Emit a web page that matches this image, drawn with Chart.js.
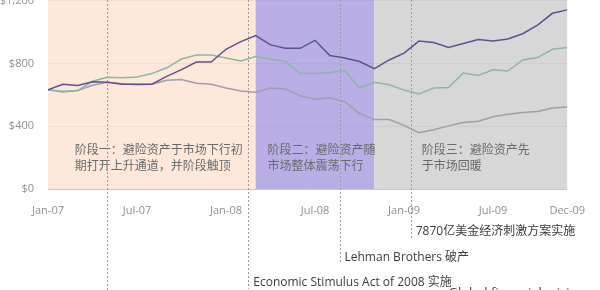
<!DOCTYPE html>
<html>
<head>
<meta charset="utf-8">
<script src="https://cdn.jsdelivr.net/npm/chart.js@4.4.1/dist/chart.umd.min.js"></script>
<style>
  html, body { margin: 0; padding: 0; background: #fff; overflow: hidden; }
  #wrap { position: absolute; left: 0; top: -20px; width: 600px; height: 320px; }
</style>
</head>
<body>
<div id="wrap"><canvas id="c"></canvas></div>
<script>
// Monthly series, Jan 2007 – Dec 2009
const months = [
  'Jan-07','Feb-07','Mar-07','Apr-07','May-07','Jun-07','Jul-07','Aug-07','Sep-07','Oct-07','Nov-07','Dec-07',
  'Jan-08','Feb-08','Mar-08','Apr-08','May-08','Jun-08','Jul-08','Aug-08','Sep-08','Oct-08','Nov-08','Dec-08',
  'Jan-09','Feb-09','Mar-09','Apr-09','May-09','Jun-09','Jul-09','Aug-09','Sep-09','Oct-09','Nov-09','Dec-09'
];
const seriesTop = [632,667,659,683,680,667,667,667,717,760,809,809,890,939,977,918,896,896,947,850,834,812,766,822,865,942,933,902,927,952,942,955,989,1044,1119,1141];
const seriesMid = [632,622,627,686,711,708,714,735,772,828,853,853,834,816,844,828,813,735,735,742,754,643,680,664,630,606,643,646,739,723,760,751,822,837,890,902];
const seriesLow = [632,618,627,661,680,671,664,667,692,698,674,667,643,624,616,643,637,593,572,581,556,482,442,443,405,358,377,402,423,431,460,476,488,493,516,523];

// Tick positions (month index) shown on the x axis
const xTickIdx = [0, 6, 12, 18, 24, 30, 35];
const yTicks = [0, 400, 800, 1200];

// Phases: start / end month index
const phaseStart = [0, 14, 22];
const phaseEnd = [14, 22, 35];
const phaseColors = ['#fde8da', '#b9aee6', '#d7d7d7'];
const phaseText = [
  ['阶段一：避险资产于市场下行初', '期打开上升通道，并阶段触顶'],
  ['阶段二：避险资产随', '市场整体震荡下行'],
  ['阶段三：避险资产先', '于市场回暖']
];
const phaseTextMonth = [1.8, 14.8, 25.2];
const phaseTextValue = [247, 142];

// Events: month index, label, label row (px below plot bottom)
const eventMonth = [4.0, 13.5, 19.65, 24.45, 27.0];
const eventLabel = ['', 'Economic Stimulus Act of 2008 实施', 'Lehman Brothers 破产', '7870亿美金经济刺激方案实施', 'Global financial crisis'];
const eventRow = [120, 94, 69, 43, 108];

const FONT = "'Open Sans', 'Noto Sans CJK SC', sans-serif";

const decorations = {
  id: 'decorations',
  beforeDraw(chart) {
    const { ctx, chartArea, scales: { x } } = chart;
    ctx.save();
    for (let i = 0; i < phaseStart.length; i++) {
      const x0 = x.getPixelForValue(phaseStart[i]);
      const x1 = x.getPixelForValue(phaseEnd[i]);
      ctx.fillStyle = phaseColors[i];
      ctx.fillRect(x0, 0, x1 - x0, chartArea.bottom);
    }
    ctx.restore();
  },
  beforeDatasetsDraw(chart) {
    const { ctx, chartArea, scales: { x, y } } = chart;
    ctx.save();
    // phase captions
    ctx.font = '12px ' + FONT;
    ctx.fillStyle = '#6a6a6a';
    ctx.textBaseline = 'middle';
    for (let i = 0; i < phaseText.length; i++) {
      const px = x.getPixelForValue(phaseTextMonth[i]);
      phaseText[i].forEach((line, j) => {
        ctx.fillText(line, px, y.getPixelForValue(phaseTextValue[j]));
      });
    }
    // event markers (dotted verticals)
    ctx.strokeStyle = '#9a9a9a';
    ctx.lineWidth = 1;
    ctx.setLineDash([2, 2]);
    for (let i = 0; i < eventMonth.length - 1; i++) {
      const px = Math.round(x.getPixelForValue(eventMonth[i])) + 0.5;
      const yEnd = chartArea.bottom + eventRow[i] + 6;
      ctx.beginPath();
      ctx.moveTo(px, 0);
      ctx.lineTo(px, yEnd);
      ctx.stroke();
    }
    ctx.restore();
  },
  afterDraw(chart) {
    const { ctx, chartArea, scales: { x } } = chart;
    ctx.save();
    ctx.font = '12px ' + FONT;
    ctx.fillStyle = '#3c3c3c';
    ctx.textBaseline = 'middle';
    for (let i = 1; i < eventMonth.length - 1; i++) {
      const px = x.getPixelForValue(eventMonth[i]) + 5;
      ctx.fillText(eventLabel[i], px, chartArea.bottom + eventRow[i]);
    }
    // last caption sits at the lower edge
    const last = eventMonth.length - 1;
    ctx.font = '13px ' + FONT;
    ctx.textBaseline = 'alphabetic';
    ctx.fillText(eventLabel[last], x.getPixelForValue(eventMonth[last]), chartArea.bottom + eventRow[last]);
    ctx.restore();
  }
};

const mk = (data, color) => ({
  data: data.map((v, i) => ({ x: i, y: v })),
  borderColor: color,
  borderWidth: 1.5,
  pointRadius: 0,
  tension: 0,
  fill: false
});

new Chart(document.getElementById('c'), {
  type: 'line',
  data: {
    datasets: [
      mk(seriesTop, '#5d5290'),
      mk(seriesMid, '#8fb5a4'),
      mk(seriesLow, '#a29eaa')
    ]
  },
  options: {
    responsive: true,
    maintainAspectRatio: false,
    animation: false,
    layout: { autoPadding: false, padding: { left: 0, right: 24, top: 15, bottom: 71 } },
    plugins: { legend: { display: false }, tooltip: { enabled: false } },
    scales: {
      x: {
        type: 'linear',
        min: 0,
        max: 35,
        afterBuildTicks: s => { s.ticks = xTickIdx.map(v => ({ value: v })); },
        afterFit: s => { s.height = 40; },
        grid: { display: false, drawTicks: false },
        border: { display: false },
        ticks: {
          autoSkip: false,
          maxRotation: 0,
          padding: 15,
          color: '#909090',
          font: { family: FONT, size: 11 },
          callback: v => months[v]
        }
      },
      y: {
        min: 0,
        max: 1200,
        afterBuildTicks: s => { s.ticks = yTicks.map(v => ({ value: v })); },
        afterFit: s => { s.width = 48; },
        grid: {
          drawTicks: false,
          color: c => c.tick && c.tick.value === 0 ? '#c9c9c9' : 'rgba(120,100,90,0.08)'
        },
        border: { display: false },
        ticks: {
          padding: 14,
          color: '#909090',
          font: { family: FONT, size: 11 },
          callback: v => '$' + v.toLocaleString('en-US')
        }
      }
    }
  },
  plugins: [decorations]
});
</script>
</body>
</html>
